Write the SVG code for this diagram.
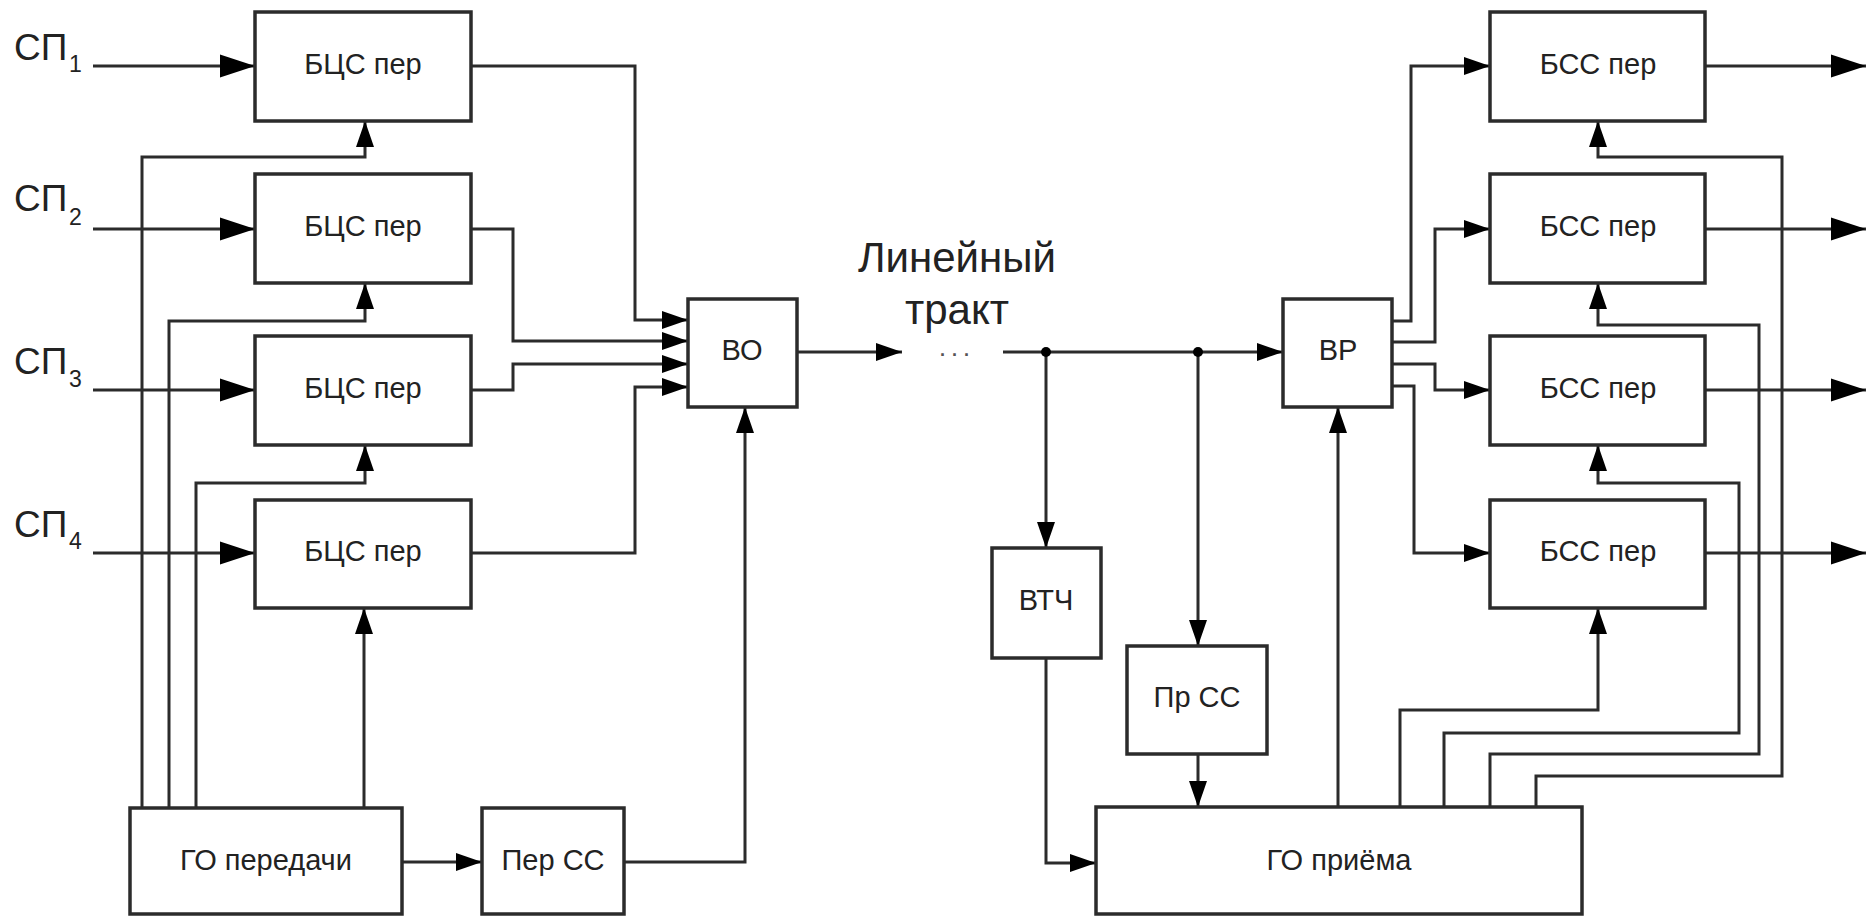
<svg xmlns="http://www.w3.org/2000/svg" width="1866" height="916" viewBox="0 0 1866 916">
<defs>
<marker id="a" markerUnits="userSpaceOnUse" markerWidth="28" markerHeight="20" refX="26" refY="9" orient="auto" overflow="visible">
<path d="M0,0 L26,9 L0,18 Z" fill="#000"/>
</marker>
<marker id="b" markerUnits="userSpaceOnUse" markerWidth="38" markerHeight="26" refX="35" refY="11.5" orient="auto" overflow="visible">
<path d="M0,0 L35,11.5 L0,23 Z" fill="#000"/>
</marker>
</defs>
<style>
.box{fill:#fff;stroke:#2b2b2b;stroke-width:3.5}
.t{font-family:"Liberation Sans",Arial,sans-serif;font-size:29px;fill:#222;text-anchor:middle}
.sp{font-family:"Liberation Sans",Arial,sans-serif;font-size:37px;fill:#222}
.sub{font-family:"Liberation Sans",Arial,sans-serif;font-size:23px;fill:#222}
.big{font-family:"Liberation Sans",Arial,sans-serif;font-size:42px;fill:#222;text-anchor:middle}
.dots{font-family:"Liberation Sans",Arial,sans-serif;font-size:18px;font-weight:bold;letter-spacing:7px;fill:#555}
.c path{fill:none;stroke:#2b2b2b;stroke-width:3}
.c .ar{marker-end:url(#a)}
.c .br{marker-end:url(#b)}
</style>
<rect width="1866" height="916" fill="#fff"/>

<g id="connectors" class="c">
<path class="br" d="M93,66 H255"/>
<path class="br" d="M93,229 H255"/>
<path class="br" d="M93,390 H255"/>
<path class="br" d="M93,553 H255"/>
<path class="ar" d="M142,808 V157 H365 V121"/>
<path class="ar" d="M169,808 V321 H365 V283"/>
<path class="ar" d="M196,808 V483 H365 V445"/>
<path class="ar" d="M364,808 V608"/>
<path class="ar" d="M402,862 H482"/>
<path class="ar" d="M624,862 H745 V407"/>
<path class="ar" d="M471,66 H635 V320 H688"/>
<path class="ar" d="M471,229 H513 V341 H688"/>
<path class="ar" d="M471,390 H513 V364 H688"/>
<path class="ar" d="M471,553 H635 V387 H688"/>
<path class="ar" d="M797,352 H902"/>
<path class="ar" d="M1003,352 H1283"/>
<path class="ar" d="M1046,352 V548"/>
<path class="ar" d="M1046,658 V863 H1096"/>
<path class="ar" d="M1198,352 V646"/>
<path class="ar" d="M1198,754 V807"/>
<path class="ar" d="M1392,321 H1411 V66 H1490"/>
<path class="ar" d="M1392,342 H1435 V229 H1490"/>
<path class="ar" d="M1392,364 H1435 V390 H1490"/>
<path class="ar" d="M1392,386 H1414 V553 H1490"/>
<path class="br" d="M1705,66 H1866"/>
<path class="br" d="M1705,229 H1866"/>
<path class="br" d="M1705,390 H1866"/>
<path class="br" d="M1705,553 H1866"/>
<path class="ar" d="M1338,807 V407"/>
<path class="ar" d="M1400,807 V710 H1598 V608"/>
<path class="ar" d="M1444,807 V733 H1739 V483 H1598 V445"/>
<path class="ar" d="M1490,807 V754 H1759 V325 H1598 V283"/>
<path class="ar" d="M1536,807 V776 H1782 V157 H1598 V121"/>
<circle cx="1046" cy="352" r="5" fill="#000"/>
<circle cx="1198" cy="352" r="5" fill="#000"/>
</g>

<g id="sp-labels">
<text class="sp" x="14" y="60">СП</text><text class="sub" x="69" y="72">1</text>
<text class="sp" x="14" y="211">СП</text><text class="sub" x="69" y="225">2</text>
<text class="sp" x="14" y="374">СП</text><text class="sub" x="69" y="387">3</text>
<text class="sp" x="14" y="537">СП</text><text class="sub" x="69" y="549">4</text>
</g>

<g id="bcs1"><rect class="box" x="255" y="12" width="216" height="109"/><text class="t" x="363" y="74">БЦС пер</text></g>
<g id="bcs2"><rect class="box" x="255" y="174" width="216" height="109"/><text class="t" x="363" y="236">БЦС пер</text></g>
<g id="bcs3"><rect class="box" x="255" y="336" width="216" height="109"/><text class="t" x="363" y="398">БЦС пер</text></g>
<g id="bcs4"><rect class="box" x="255" y="500" width="216" height="108"/><text class="t" x="363" y="561">БЦС пер</text></g>
<g id="bo"><rect class="box" x="688" y="299" width="109" height="108"/><text class="t" x="742" y="360">ВО</text></g>
<g id="go-tx"><rect class="box" x="130" y="808" width="272" height="106"/><text class="t" x="266" y="870">ГО передачи</text></g>
<g id="per-ss"><rect class="box" x="482" y="808" width="142" height="106"/><text class="t" x="553" y="870">Пер СС</text></g>

<g id="line-label">
<text class="big" x="957" y="272">Линейный</text>
<text class="big" x="957" y="324">тракт</text>
<text class="dots" x="940" y="356">...</text>
</g>

<g id="vr"><rect class="box" x="1283" y="299" width="109" height="108"/><text class="t" x="1338" y="360">ВР</text></g>
<g id="vtch"><rect class="box" x="992" y="548" width="109" height="110"/><text class="t" x="1046" y="610">ВТЧ</text></g>
<g id="pr-ss"><rect class="box" x="1127" y="646" width="140" height="108"/><text class="t" x="1197" y="707">Пр СС</text></g>
<g id="go-rx"><rect class="box" x="1096" y="807" width="486" height="107"/><text class="t" x="1339" y="870">ГО приёма</text></g>
<g id="bss1"><rect class="box" x="1490" y="12" width="215" height="109"/><text class="t" x="1598" y="74">БСС пер</text></g>
<g id="bss2"><rect class="box" x="1490" y="174" width="215" height="109"/><text class="t" x="1598" y="236">БСС пер</text></g>
<g id="bss3"><rect class="box" x="1490" y="336" width="215" height="109"/><text class="t" x="1598" y="398">БСС пер</text></g>
<g id="bss4"><rect class="box" x="1490" y="500" width="215" height="108"/><text class="t" x="1598" y="561">БСС пер</text></g>
</svg>
